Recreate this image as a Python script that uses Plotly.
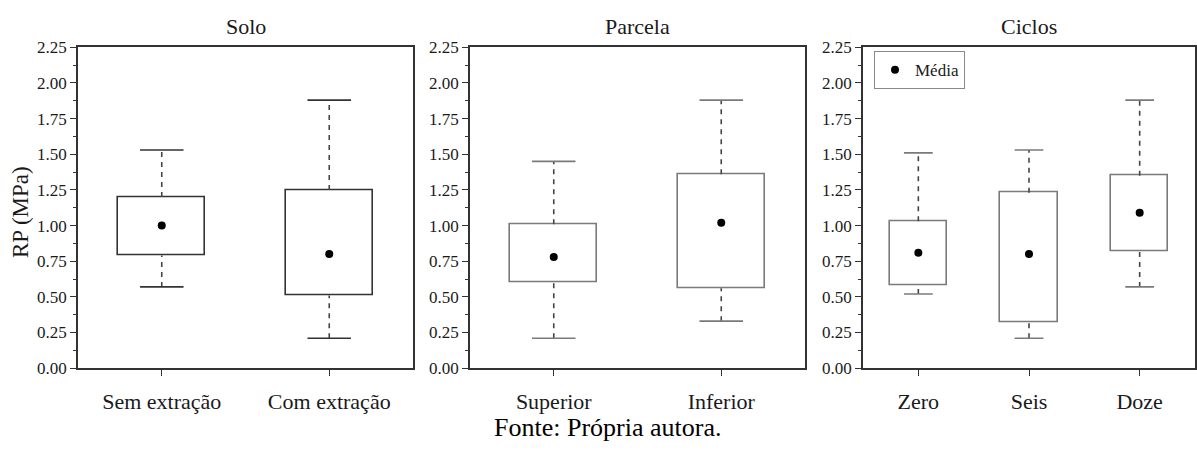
import plotly.graph_objects as go

# ---- data ----
solo_cats = ["Sem extração", "Com extração"]
solo_low = [0.57, 0.21]
solo_q1 = [0.79, 0.51]
solo_q3 = [1.20, 1.25]
solo_high = [1.53, 1.88]
solo_mean = [1.00, 0.80]

parc_cats = ["Superior", "Inferior"]
parc_low = [0.21, 0.33]
parc_q1 = [0.60, 0.56]
parc_q3 = [1.01, 1.36]
parc_high = [1.45, 1.88]
parc_mean = [0.78, 1.02]

cic_cats = ["Zero", "Seis", "Doze"]
cic_low = [0.52, 0.21, 0.57]
cic_q1 = [0.58, 0.32, 0.82]
cic_q3 = [1.03, 1.23, 1.35]
cic_high = [1.51, 1.53, 1.88]
cic_mean = [0.81, 0.80, 1.09]

titles = ["Solo", "Parcela", "Ciclos"]
y_ticks = [0.00, 0.25, 0.50, 0.75, 1.00, 1.25, 1.50, 1.75, 2.00, 2.25]

FONT = "Times New Roman, Liberation Serif, serif"
W, H = 1197, 451

panels = [
    dict(cats=solo_cats, low=solo_low, q1=solo_q1, q3=solo_q3, high=solo_high, mean=solo_mean,
         box_color="#333333", px=(78, 413)),
    dict(cats=parc_cats, low=parc_low, q1=parc_q1, q3=parc_q3, high=parc_high, mean=parc_mean,
         box_color="#7a7a7a", px=(470, 805)),
    dict(cats=cic_cats, low=cic_low, q1=cic_q1, q3=cic_q3, high=cic_high, mean=cic_mean,
         box_color="#7a7a7a", px=(863, 1195)),
]

y_top_px, y_bot_px = 40, 375
ydom = [(H - y_bot_px) / H, (H - y_top_px) / H]

fig = go.Figure()
BOX_W = 0.52
CAP_HW = 0.13

for k, p in enumerate(panels):
    ax = "" if k == 0 else str(k + 1)
    xref, yref = "x" + ax, "y" + ax
    idx = list(range(len(p["cats"])))
    # boxes
    fig.add_trace(go.Bar(
        x=idx, y=[b - a for a, b in zip(p["q1"], p["q3"])], base=p["q1"], width=BOX_W,
        marker=dict(color="white", line=dict(color=p["box_color"], width=1.6)),
        showlegend=False, hoverinfo="skip", xaxis=xref, yaxis=yref))
    # whiskers (dashed)
    wx, wy = [], []
    for i in idx:
        wx += [i, i, None, i, i, None]
        wy += [p["q3"][i], p["high"][i], None, p["low"][i], p["q1"][i], None]
    fig.add_trace(go.Scatter(x=wx, y=wy, mode="lines",
                             line=dict(color="#444444", width=1.6, dash="5px,5px"),
                             showlegend=False, hoverinfo="skip", xaxis=xref, yaxis=yref))
    # caps
    cx, cy = [], []
    for i in idx:
        cx += [i - CAP_HW, i + CAP_HW, None, i - CAP_HW, i + CAP_HW, None]
        cy += [p["high"][i], p["high"][i], None, p["low"][i], p["low"][i], None]
    fig.add_trace(go.Scatter(x=cx, y=cy, mode="lines",
                             line=dict(color=p["box_color"], width=1.6),
                             showlegend=False, hoverinfo="skip", xaxis=xref, yaxis=yref))
    # means
    fig.add_trace(go.Scatter(x=idx, y=p["mean"], mode="markers", name="Média",
                             marker=dict(color="black", size=8),
                             showlegend=(k == 2), xaxis=xref, yaxis=yref))

    xdom = [p["px"][0] / W, p["px"][1] / W]
    fig.layout["xaxis" + ax] = dict(
        domain=xdom, range=[-0.5, len(idx) - 0.5], tickvals=idx, ticktext=p["cats"],
        showline=True, linecolor="#333333", linewidth=1.6, mirror=True,
        ticks="outside", ticklen=6, tickwidth=1.4, tickcolor="#333333",
        showgrid=False, zeroline=False, anchor="y" + ax,
        tickfont=dict(family=FONT, size=22, color="#1a1a1a"), ticklabelstandoff=7)
    fig.layout["yaxis" + ax] = dict(
        domain=ydom, range=[0, 2.25], tickvals=y_ticks,
        ticktext=[f"{v:.2f}" for v in y_ticks],
        showline=True, linecolor="#333333", linewidth=1.6, mirror=True,
        ticks="outside", ticklen=6, tickwidth=1.4, tickcolor="#333333",
        minor=dict(ticks="outside", ticklen=3, tickwidth=1.2, tickcolor="#333333",
                   dtick=0.125, tick0=0, showgrid=False),
        showgrid=False, zeroline=False, anchor="x" + ax,
        tickfont=dict(family=FONT, size=17, color="#1a1a1a"))

    fig.add_annotation(text=titles[k], x=sum(xdom) / 2, y=(H - 18) / H, xref="paper", yref="paper",
                       showarrow=False, xanchor="center", yanchor="middle",
                       font=dict(family=FONT, size=22, color="#1a1a1a"))

fig.add_annotation(text="RP (MPa)", x=20 / W, y=(H - 212) / H, xref="paper", yref="paper",
                   showarrow=False, textangle=-90, xanchor="center", yanchor="middle",
                   font=dict(family=FONT, size=23, color="#1a1a1a"))
fig.add_annotation(text="Fonte: Própria autora.", x=607 / W, y=(H - 437) / H, xref="paper", yref="paper",
                   showarrow=False, xanchor="center", yanchor="middle",
                   font=dict(family=FONT, size=26, color="#000000"))

fig.update_layout(
    width=W, height=H, margin=dict(l=0, r=0, t=0, b=0),
    paper_bgcolor="white", plot_bgcolor="white",
    showlegend=True,
    legend=dict(x=874 / W, y=(H - 64) / H, xanchor="left", yanchor="middle",
                bordercolor="#888888", borderwidth=1, bgcolor="white",
                font=dict(family=FONT, size=17, color="#1a1a1a"),
                itemwidth=30, tracegroupgap=0),
    bargap=0,
)

fig.write_html("out.html")
